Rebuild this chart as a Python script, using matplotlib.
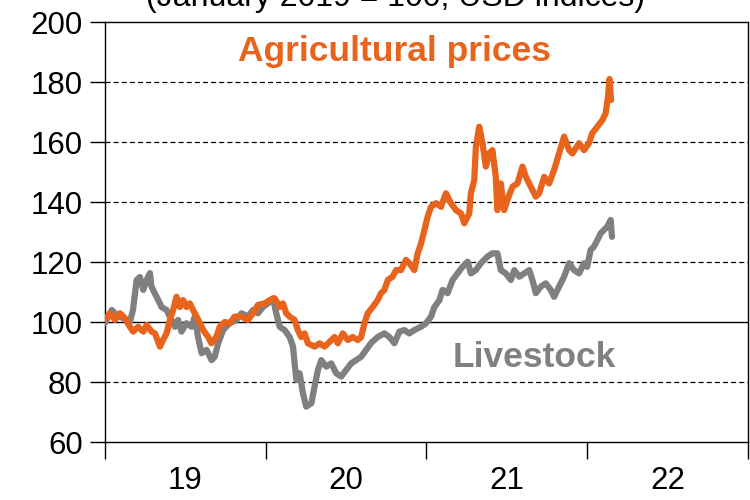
import matplotlib
matplotlib.use("Agg")
import matplotlib.pyplot as plt
from matplotlib.ticker import FixedLocator, NullFormatter, FixedFormatter

# ---- data (decimal years, index values; January 2019 = 100) ----
livestock_t = [2019.000, 2019.042, 2019.073, 2019.112, 2019.155, 2019.174, 2019.197, 2019.217,
               2019.238, 2019.259, 2019.280, 2019.289, 2019.321, 2019.352, 2019.383, 2019.414,
               2019.435, 2019.455, 2019.476, 2019.507, 2019.539, 2019.559, 2019.579, 2019.601,
               2019.632, 2019.663, 2019.683, 2019.704, 2019.735, 2019.776, 2019.818, 2019.849,
               2019.890, 2019.921, 2019.952, 2019.983, 2020.014, 2020.045, 2020.066, 2020.087,
               2020.118, 2020.149, 2020.170, 2020.180, 2020.191, 2020.211, 2020.232, 2020.252,
               2020.284, 2020.304, 2020.325, 2020.346, 2020.377, 2020.408, 2020.439, 2020.470,
               2020.501, 2020.532, 2020.563, 2020.594, 2020.625, 2020.656, 2020.697, 2020.739,
               2020.770, 2020.801, 2020.832, 2020.863, 2020.894, 2020.925, 2020.967, 2020.998,
               2021.029, 2021.050, 2021.081, 2021.101, 2021.132, 2021.163, 2021.194, 2021.225,
               2021.257, 2021.277, 2021.308, 2021.339, 2021.380, 2021.411, 2021.442, 2021.463,
               2021.494, 2021.526, 2021.547, 2021.578, 2021.609, 2021.640, 2021.660, 2021.681,
               2021.712, 2021.743, 2021.774, 2021.795, 2021.826, 2021.857, 2021.888, 2021.919,
               2021.950, 2021.981, 2022.001, 2022.022, 2022.043, 2022.064, 2022.085, 2022.106,
               2022.126, 2022.147, 2022.155]
livestock_v = [99.7, 104.0, 102.3, 101.3, 100.0, 104.0, 114.0, 115.0,
               110.7, 114.0, 116.3, 111.8, 108.4, 105.0, 104.0, 100.7,
               98.4, 100.7, 96.8, 99.6, 98.4, 101.8, 95.0, 89.6,
               90.7, 87.3, 88.4, 92.9, 97.3, 99.6, 100.7, 102.9,
               101.8, 104.0, 102.9, 105.0, 106.2, 107.9, 102.9, 98.4,
               97.3, 95.0, 91.8, 86.2, 80.7, 82.9, 76.2, 71.8,
               72.9, 78.4, 84.0, 87.3, 85.1, 86.2, 82.9, 81.8,
               84.0, 86.2, 87.3, 88.4, 90.7, 93.0, 95.0, 96.2,
               95.0, 92.9, 96.8, 97.3, 96.2, 97.3, 98.4, 99.6,
               101.8, 105.0, 107.3, 110.7, 109.6, 114.0, 116.2, 118.4,
               120.1, 116.2, 117.3, 119.6, 121.8, 122.9, 122.9, 117.3,
               116.2, 114.0, 117.3, 115.1, 116.2, 117.3, 114.0, 109.6,
               111.8, 112.9, 110.7, 108.4, 111.8, 115.1, 119.6, 117.3,
               116.2, 119.6, 118.4, 124.0, 125.1, 127.3, 129.6, 130.7,
               131.8, 134.0, 128.4]

agri_t = [2019.000, 2019.031, 2019.062, 2019.093, 2019.124, 2019.155, 2019.175, 2019.206,
          2019.238, 2019.259, 2019.290, 2019.311, 2019.342, 2019.361, 2019.383, 2019.404,
          2019.424, 2019.445, 2019.466, 2019.486, 2019.507, 2019.528, 2019.548, 2019.570,
          2019.590, 2019.611, 2019.642, 2019.662, 2019.693, 2019.714, 2019.745, 2019.776,
          2019.807, 2019.849, 2019.890, 2019.921, 2019.952, 2019.994, 2020.025, 2020.056,
          2020.087, 2020.107, 2020.128, 2020.149, 2020.180, 2020.200, 2020.221, 2020.242,
          2020.263, 2020.304, 2020.335, 2020.366, 2020.398, 2020.429, 2020.449, 2020.480,
          2020.511, 2020.542, 2020.573, 2020.594, 2020.615, 2020.635, 2020.666, 2020.697,
          2020.718, 2020.739, 2020.760, 2020.790, 2020.811, 2020.842, 2020.873, 2020.894,
          2020.925, 2020.946, 2020.967, 2020.988, 2021.008, 2021.029, 2021.060, 2021.091,
          2021.122, 2021.153, 2021.184, 2021.215, 2021.236, 2021.267, 2021.277, 2021.298,
          2021.308, 2021.329, 2021.349, 2021.370, 2021.391, 2021.411, 2021.432, 2021.442,
          2021.463, 2021.484, 2021.504, 2021.536, 2021.567, 2021.598, 2021.619, 2021.650,
          2021.681, 2021.702, 2021.733, 2021.764, 2021.795, 2021.826, 2021.857, 2021.888,
          2021.909, 2021.950, 2021.981, 2022.012, 2022.032, 2022.064, 2022.095, 2022.116,
          2022.130, 2022.140, 2022.149]
agri_v = [100.7, 102.9, 100.7, 102.9, 101.3, 98.4, 96.8, 98.4,
          96.8, 99.0, 96.8, 96.2, 91.8, 94.0, 96.2, 100.7,
          104.0, 108.4, 105.0, 107.3, 105.0, 106.2, 104.0, 101.8,
          99.6, 97.3, 95.0, 92.9, 95.0, 98.4, 100.0, 99.6,
          101.8, 101.8, 100.7, 102.9, 105.7, 106.2, 107.3, 107.9,
          105.0, 106.2, 102.9, 101.8, 100.7, 97.3, 95.0, 96.2,
          92.9, 91.8, 92.9, 91.8, 93.4, 95.0, 92.9, 96.2,
          94.0, 95.0, 94.0, 95.0, 99.6, 102.9, 105.0, 107.3,
          109.6, 110.7, 114.0, 115.1, 117.3, 117.3, 120.7, 119.6,
          117.3, 122.9, 126.2, 130.7, 135.1, 138.4, 139.6, 138.4,
          142.9, 139.6, 137.3, 136.2, 132.9, 136.2, 142.9, 147.3,
          158.4, 165.1, 159.6, 151.8, 156.2, 157.3, 148.4, 137.3,
          146.2, 137.3, 140.7, 145.1, 146.2, 151.8, 148.4, 145.1,
          141.8, 142.9, 148.4, 146.2, 150.7, 156.2, 161.8, 157.3,
          156.2, 159.6, 157.3, 159.6, 162.9, 165.1, 167.3, 169.6,
          175.0, 181.0, 174.0]

year_ticks = [2019, 2020, 2021, 2022, 2023]
year_labels = ["19", "20", "21", "22"]
y_ticks = [60, 80, 100, 120, 140, 160, 180, 200]

title_text = "(January 2019 = 100, USD indices)"
agri_label = "Agricultural prices"
live_label = "Livestock"

ORANGE = "#E8641C"
GREY = "#808080"

plt.rcParams["font.family"] = ["Liberation Sans", "DejaVu Sans"]

fig = plt.figure(figsize=(7.5, 5), dpi=100)
ax = fig.add_axes([0.14, 0.116, 0.857, 0.84])

# grid lines
for v in y_ticks[1:-1]:
    if v == 100:
        ax.axhline(v, color="black", lw=1.0, zorder=1)
    else:
        ax.axhline(v, color="black", lw=0.9, ls=(0, (4, 2.5)), zorder=1)

ax.plot(livestock_t, livestock_v, color=GREY, lw=4.5, solid_joinstyle="round",
        solid_capstyle="round", zorder=3)
ax.plot(agri_t, agri_v, color=ORANGE, lw=4.5, solid_joinstyle="round",
        solid_capstyle="round", zorder=4)

ax.set_xlim(year_ticks[0], year_ticks[-1])
ax.set_ylim(y_ticks[0], y_ticks[-1])

ax.set_yticks(y_ticks)
ax.set_yticklabels([str(v) for v in y_ticks])
ax.tick_params(axis="y", direction="out", length=11, width=1.0, pad=5, labelsize=22.5)

ax.xaxis.set_major_locator(FixedLocator(year_ticks))
ax.xaxis.set_major_formatter(NullFormatter())
ax.xaxis.set_minor_locator(FixedLocator([y + 0.5 for y in year_ticks[:-1]]))
ax.xaxis.set_minor_formatter(FixedFormatter(year_labels))
ax.tick_params(axis="x", which="major", direction="out", length=12, width=1.0)
ax.tick_params(axis="x", which="minor", length=0, pad=17, labelsize=22.5)

for s in ax.spines.values():
    s.set_linewidth(1.0)
    s.set_color("black")

ax.text(2020.80, 190.3, agri_label, color=ORANGE, fontsize=25.5, fontweight="bold",
        ha="center", va="center", zorder=5)
ax.text(2021.67, 88.3, live_label, color=GREY, fontsize=25.5, fontweight="bold",
        ha="center", va="center", zorder=5)

fig.text(0.527, 0.988, title_text, fontsize=23, ha="center", va="baseline")

fig.savefig("out.png", dpi=100)
